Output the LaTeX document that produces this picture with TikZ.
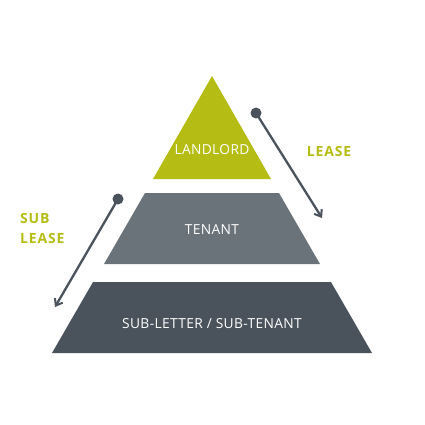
\documentclass[tikz,border=0pt]{standalone}
\usepackage{fontspec}
\setmainfont{Open Sans}
\usetikzlibrary{arrows.meta}

\definecolor{lime}{HTML}{B5BD14}
\definecolor{slate}{HTML}{6B737A}
\definecolor{darkslate}{HTML}{4A535C}

\begin{document}
\begin{tikzpicture}[x=1pt,y=-1pt,
    layer/.style={white,font=\fontsize{13.8}{15}\selectfont\addfontfeature{LetterSpace=2.5}},
    deal/.style={lime,font=\fontsize{14}{20}\selectfont\bfseries\addfontfeature{LetterSpace=6},align=left},
    link/.style={darkslate,line width=2.3pt,-{Straight Barb[length=6pt,width=9pt,line width=2pt]}},
    dot/.style={circle,fill=darkslate,inner sep=0pt,minimum size=11pt}]
  \useasboundingbox (0,0) rectangle (425,425);

  % pyramid layers
  \fill[lime]      (212,76) -- (271,179) -- (153,179) -- cycle;
  \fill[slate]     (145,193) -- (279,193) -- (320,264) -- (104,264) -- cycle;
  \fill[darkslate] (93,282) -- (331,282) -- (372,353) -- (52,353) -- cycle;

  \node[layer] (landlord) at (212,150) {LANDLORD};
  \node[layer] (tenant)   at (212,230) {TENANT};
  \node[layer] (subtenant) at (212,324) {SUB-LETTER / SUB-TENANT};

  % lease arrows
  \node[dot] (lfrom) at (256,113) {};
  \coordinate (lto) at (322,218);
  \node[dot] (sfrom) at (118,199) {};
  \coordinate (sto) at (55,307);

  \draw[link] (lfrom.center) -- (lto);
  \draw[link] (sfrom.center) -- (sto);

  \node[deal] (lease)    at (329,151) {LEASE};
  \node[deal,anchor=west,inner xsep=0pt] (sublease) at (20,228) {SUB\\LEASE};
\end{tikzpicture}
\end{document}
